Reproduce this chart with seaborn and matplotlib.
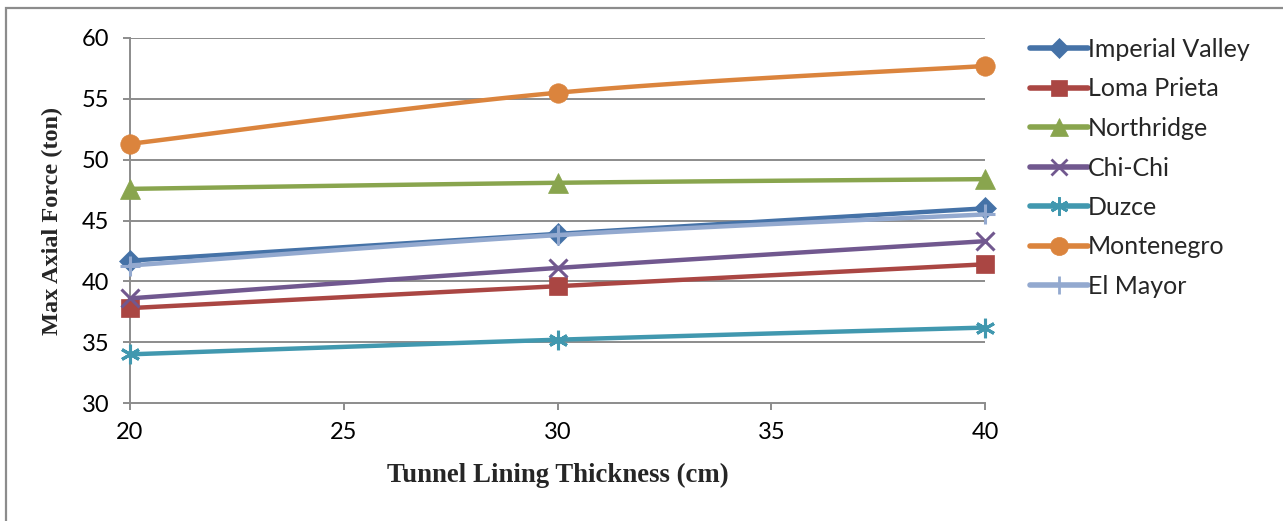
import numpy as np
import pandas as pd
import matplotlib
matplotlib.use("Agg")
import matplotlib.pyplot as plt
from matplotlib.lines import Line2D
from matplotlib.patches import Rectangle
import seaborn as sns

# Lining thickness (cm) and maximum axial force (ton) per earthquake record
thickness = [20, 30, 40]
series_names = ["Imperial Valley", "Loma Prieta", "Northridge", "Chi-Chi",
                "Duzce", "Montenegro", "El Mayor"]
imperial_valley = [41.7, 43.9, 46.0]
loma_prieta = [37.8, 39.6, 41.4]
northridge = [47.6, 48.1, 48.4]
chi_chi = [38.6, 41.1, 43.3]
duzce = [34.0, 35.2, 36.2]
montenegro = [51.3, 55.5, 57.7]
el_mayor = [41.3, 43.8, 45.5]

values = [imperial_valley, loma_prieta, northridge, chi_chi, duzce, montenegro, el_mayor]
colors = ["#4572A7", "#AA4643", "#89A54E", "#71588F", "#4198AF", "#DB843D", "#93A9CF"]
markers = ["D", "s", "^", "x", (6, 2, 0), "o", "+"]
msizes = [11, 13, 14, 13, 14, 14, 14]


def smooth(xs, ys, n=40):
    """Smoothed line through the points using cubic Bezier segments."""
    P = np.column_stack([xs, ys]).astype(float)
    m = len(P)
    out = []
    for i in range(m - 1):
        p0 = P[max(i - 1, 0)]
        p1 = P[i]
        p2 = P[i + 1]
        p3 = P[min(i + 2, m - 1)]
        c1 = p1 + (p2 - p0) / 6.0
        c2 = p2 - (p3 - p1) / 6.0
        t = np.linspace(0, 1, n)[:, None]
        seg = ((1 - t) ** 3) * p1 + 3 * ((1 - t) ** 2) * t * c1 + 3 * (1 - t) * t ** 2 * c2 + t ** 3 * p2
        out.append(seg if i == 0 else seg[1:])
    return np.vstack(out)


rows = []
for name, ys in zip(series_names, values):
    curve = smooth(thickness, ys)
    for x, y in curve:
        rows.append({"thickness": x, "force": y, "record": name})
curves = pd.DataFrame(rows)

sns.set_theme(style="white")
plt.rcParams["font.family"] = ["Lato", "DejaVu Sans"]

fig = plt.figure(figsize=(12.83, 5.21), dpi=100)
ax = fig.add_axes([130 / 1283, 1 - 403 / 521, (985 - 130) / 1283, (403 - 38) / 521])

grid_color = "#8C8C8C"
for yv in range(35, 61, 5):
    ax.axhline(yv, color=grid_color, lw=1.4, zorder=1)

# El Mayor is drawn last so it sits over Imperial Valley
for i, name in enumerate(series_names):
    sub = curves[curves["record"] == name]
    sns.lineplot(data=sub, x="thickness", y="force", color=colors[i], lw=3.2,
                 ax=ax, estimator=None, sort=False, zorder=3 + i, clip_on=False)
    mk = markers[i]
    line_marker = mk in ("x", "+") or isinstance(mk, tuple)
    ax.plot(thickness, values[i], linestyle="none", marker=mk, markersize=msizes[i],
            color=colors[i], markeredgecolor=colors[i],
            markeredgewidth=2.2 if line_marker else 0.5,
            zorder=3 + i, clip_on=False)

ax.set_xlim(20, 40)
ax.set_ylim(30, 60)
ax.set_xticks(range(20, 41, 5))
ax.set_yticks(range(30, 61, 5))
ax.tick_params(axis="both", direction="out", length=5, width=1.4, color=grid_color,
               labelsize=17, labelcolor="black")
ax.tick_params(axis="y", pad=10, left=True)
ax.tick_params(axis="x", pad=9, bottom=True)

for s in ["top", "right"]:
    ax.spines[s].set_visible(False)
for s in ["left", "bottom"]:
    ax.spines[s].set_color(grid_color)
    ax.spines[s].set_linewidth(1.4)

ax.set_xlabel("Tunnel Lining Thickness (cm)", family="Liberation Serif",
              fontweight="bold", fontsize=19.3, labelpad=14)
ax.set_ylabel("Max Axial Force (ton)", family="Liberation Serif",
              fontweight="bold", fontsize=17.5, labelpad=13)

handles = []
for i in range(len(series_names)):
    mk = markers[i]
    line_marker = mk in ("x", "+") or isinstance(mk, tuple)
    handles.append(Line2D([0], [0], color=colors[i], lw=4, solid_capstyle="round",
                          marker=mk, markersize=msizes[i] - 1,
                          markeredgecolor=colors[i],
                          markeredgewidth=2 if line_marker else 0.5))
leg = fig.legend(handles, series_names, loc="upper left",
                 bbox_to_anchor=(1020 / 1283, 1 - 28 / 521), frameon=False,
                 fontsize=18, handlelength=2.3, handletextpad=0.02,
                 labelspacing=0.66, borderaxespad=0)

fig.patches.append(Rectangle((6 / 1283, -0.2), 1.5, 1.2 - 8 / 521,
                             transform=fig.transFigure, fill=False,
                             edgecolor="#8C8C8C", lw=1.6, zorder=0))

fig.savefig("out.png", dpi=100)
